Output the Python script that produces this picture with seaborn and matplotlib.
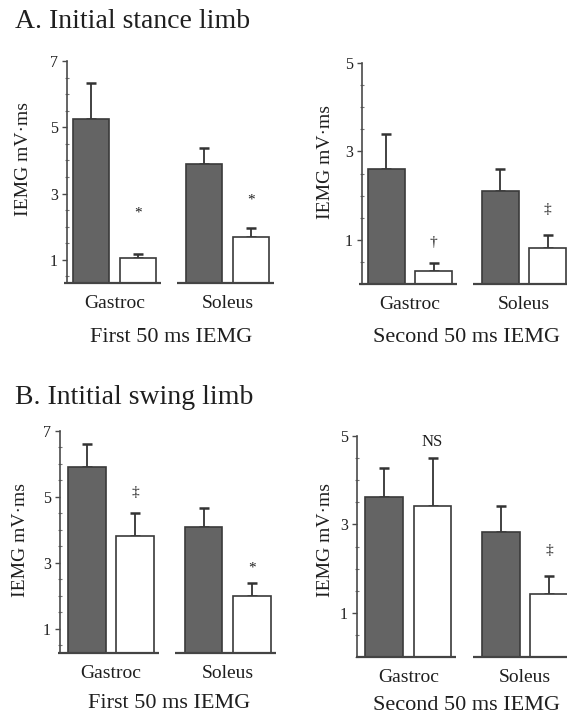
import matplotlib
matplotlib.use("Agg")
import matplotlib.pyplot as plt
from matplotlib.ticker import FixedLocator, MultipleLocator
import pandas as pd
import seaborn as sns

# ---- data -------------------------------------------------------------
muscles = ["Gastroc", "Soleus"]
conditions = ["shaded", "open"]

# A. Initial stance limb, first 50 ms
a1_shaded = [5.25, 3.88]
a1_shaded_err = [1.10, 0.48]
a1_open = [1.06, 1.69]
a1_open_err = [0.12, 0.27]

# A. Initial stance limb, second 50 ms
a2_shaded = [2.60, 2.11]
a2_shaded_err = [0.79, 0.49]
a2_open = [0.30, 0.82]
a2_open_err = [0.18, 0.28]

# B. Initial swing limb, first 50 ms
b1_shaded = [5.90, 4.10]
b1_shaded_err = [0.70, 0.58]
b1_open = [3.82, 2.00]
b1_open_err = [0.70, 0.40]

# B. Initial swing limb, second 50 ms
b2_shaded = [3.61, 2.82]
b2_shaded_err = [0.66, 0.59]
b2_open = [3.41, 1.43]
b2_open_err = [1.09, 0.41]

# significance marks: (muscle index, text, y position)
a1_marks = [(0, "*", 2.40), (1, "*", 2.80)]
a2_marks = [(0, "\u2020", 0.95), (1, "\u2021", 1.68)]
b1_marks = [(0, "\u2021", 5.15), (1, "*", 2.85)]
b2_marks = [(0, "NS", 4.86), (1, "\u2021", 2.40)]

y_title = "IEMG mV\u00b7ms"
x_titles = ["First 50 ms IEMG", "Second 50 ms IEMG"]
panel_titles = ["A. Initial stance limb", "B. Intitial swing limb"]

# ---- style ------------------------------------------------------------
sns.set_theme(style="white")
plt.rcParams["font.family"] = ["Liberation Serif", "DejaVu Serif"]
TEXT = "#1f1f1f"
AXIS = "#4a4a4a"
DARK = "#646464"

W, H = 567, 721
fig = plt.figure(figsize=(W / 100, H / 100), dpi=100)
fig.patch.set_facecolor("white")


def add_axes(left, right, top, bottom):
    return fig.add_axes([left / W, 1 - bottom / H, (right - left) / W, (bottom - top) / H])


def draw_panel(ax, shaded, shaded_err, opened, opened_err, marks, ylim, xlim,
               majors, xtitle, title_drop, ylab_xy):
    df = pd.DataFrame({
        "muscle": muscles * 2,
        "condition": [conditions[0]] * 2 + [conditions[1]] * 2,
        "value": shaded + opened,
    })
    sns.barplot(data=df, x="muscle", y="value", hue="condition",
                order=muscles, hue_order=conditions,
                palette={"shaded": DARK, "open": "white"}, saturation=1,
                width=0.83, gap=0.22, edgecolor="#3a3a3a", linewidth=1.2,
                errorbar=None, legend=False, ax=ax, zorder=3)

    # upper-only error bars on every bar
    centers = {}
    for cond, container, errs in zip(conditions, ax.containers, [shaded_err, opened_err]):
        for i, (bar, e) in enumerate(zip(container, errs)):
            xc = bar.get_x() + bar.get_width() / 2
            centers[(cond, i)] = xc
            ax.errorbar(xc, bar.get_height(), yerr=[[0], [e]], fmt="none",
                        ecolor="#333333", elinewidth=1.3, capsize=3.5,
                        capthick=1.8, zorder=2)

    for i, txt, y in marks:
        ax.text(centers[("open", i)], y, txt, ha="center", va="center",
                fontsize=12 if txt == "NS" else 11, color=TEXT, zorder=4)

    ax.set_ylim(*ylim)
    ax.set_xlim(*xlim)
    ax.set_xlabel("")
    ax.set_ylabel("")

    for s in ["top", "right", "bottom"]:
        ax.spines[s].set_visible(False)
    ax.spines["left"].set_color(AXIS)
    ax.spines["left"].set_linewidth(1.2)

    # broken baseline under each muscle group
    for i in range(len(muscles)):
        ax.plot([i - 0.45, i + 0.41], [ylim[0], ylim[0]], color="#444444",
                lw=1.6, clip_on=False, solid_capstyle="butt", zorder=5)

    ax.yaxis.set_major_locator(FixedLocator(majors))
    ax.yaxis.set_minor_locator(MultipleLocator(0.5))
    ax.tick_params(axis="y", which="major", direction="out", length=3.5,
                   width=1.0, color=AXIS, pad=3, labelsize=11.5, labelcolor=TEXT,
                   left=True)
    ax.tick_params(axis="y", which="minor", direction="inout", length=2.5,
                   width=0.8, color="#777777", left=True)
    ax.tick_params(axis="x", length=0, pad=8.5, labelsize=14, labelcolor=TEXT)

    ax.annotate(xtitle, xy=(0.5, 0), xycoords=("data", "axes fraction"),
                xytext=(0, -title_drop * 0.72), textcoords="offset points",
                ha="center", va="center", fontsize=16, color=TEXT)
    ax.text(ylab_xy[0], ylab_xy[1], y_title, rotation=90, ha="center",
            va="center", fontsize=14, color=TEXT, transform=ax.transAxes)
    ax.set_facecolor("none")


# ---- panels -----------------------------------------------------------
ax_a1 = add_axes(67, 280, 61, 283)
draw_panel(ax_a1, a1_shaded, a1_shaded_err, a1_open, a1_open_err, a1_marks,
           (0.3, 7.0), (-0.42, 1.465), [1, 3, 5, 7], x_titles[0], 54,
           ((24 - 67) / 213, 0.56))

ax_a2 = add_axes(362, 567, 63, 284)
draw_panel(ax_a2, a2_shaded, a2_shaded_err, a2_open, a2_open_err, a2_marks,
           (0.0, 5.0), (-0.42, 1.377), [1, 3, 5], x_titles[1], 53,
           ((325 - 362) / 205, 0.55))

ax_b1 = add_axes(60, 285, 431, 653)
draw_panel(ax_b1, b1_shaded, b1_shaded_err, b1_open, b1_open_err, b1_marks,
           (0.27, 7.0), (-0.436, 1.49), [1, 3, 5, 7], x_titles[0], 50,
           ((20 - 60) / 225, 0.51))

ax_b2 = add_axes(357, 567, 436, 657)
draw_panel(ax_b2, b2_shaded, b2_shaded_err, b2_open, b2_open_err, b2_marks,
           (0.0, 5.0), (-0.44, 1.36), [1, 3, 5], x_titles[1], 48,
           ((325 - 357) / 210, 0.53))

fig.text(15 / W, 1 - 22 / H, panel_titles[0], ha="left", va="center",
         fontsize=20, color=TEXT)
fig.text(15 / W, 1 - 397 / H, panel_titles[1], ha="left", va="center",
         fontsize=20, color=TEXT)

fig.savefig("out.png", dpi=100, facecolor="white")
